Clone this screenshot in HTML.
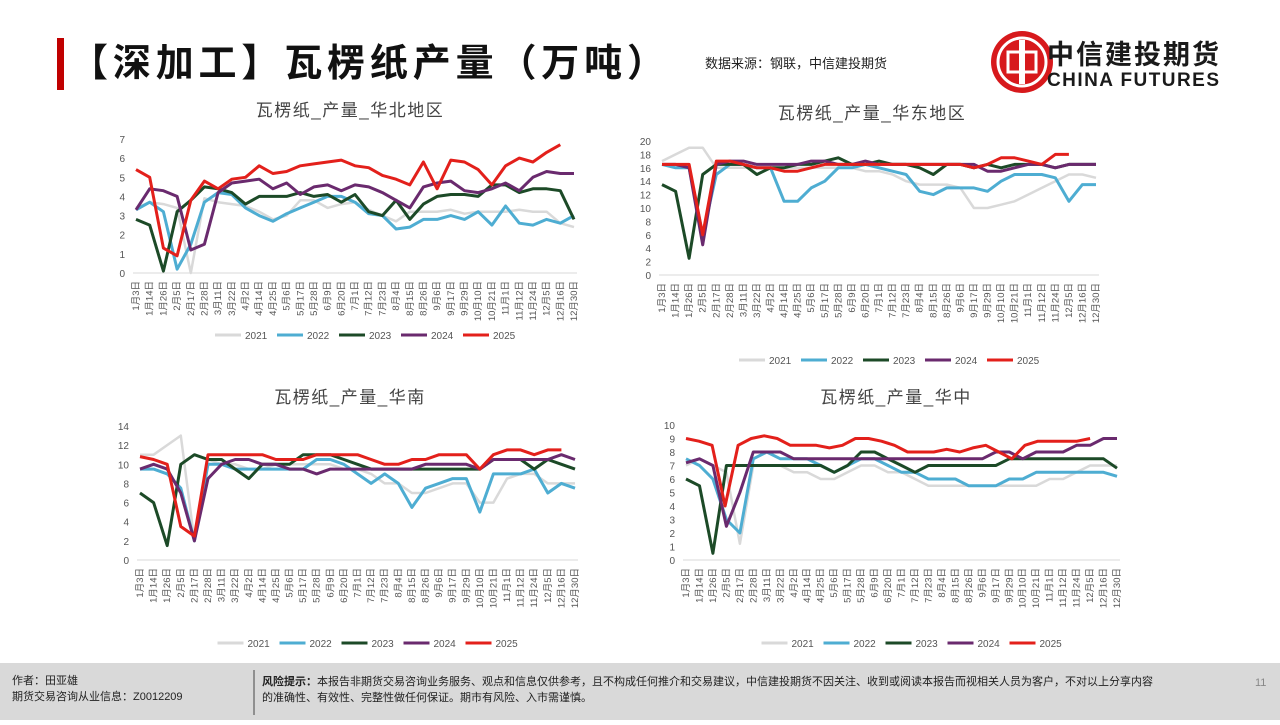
<!DOCTYPE html>
<html><head><meta charset="utf-8"><style>
body{margin:0;width:1280px;height:720px;overflow:hidden;background:#fff;font-family:"Liberation Sans","Noto Sans CJK SC",sans-serif}
</style></head><body>
<svg id="s" width="1280" height="720" xmlns="http://www.w3.org/2000/svg" font-family="Liberation Sans, Noto Sans CJK SC, sans-serif">
<rect x="57" y="38" width="7" height="52" fill="#c00000"/>
<text x="70" y="76" font-size="38" font-weight="bold" fill="#111" textLength="595" lengthAdjust="spacing">【深加工】瓦楞纸产量（万吨）</text>
<text x="705" y="68" font-size="13" fill="#222">数据来源：钢联，中信建投期货</text>
<circle cx="1022" cy="62" r="31" fill="#d7191c"/>
<circle cx="1022" cy="62" r="24" fill="none" stroke="#fff" stroke-width="3"/>
<rect x="1019" y="40" width="6" height="44" fill="#fff"/>
<rect x="1008" y="52" width="28" height="20" fill="none" stroke="#fff" stroke-width="3"/>
<text x="1047" y="64" font-size="27" font-weight="bold" fill="#1a1a1a" textLength="172" lengthAdjust="spacing">中信建投期货</text>
<text x="1047" y="86" font-size="19" font-weight="bold" fill="#1a1a1a" textLength="172" lengthAdjust="spacing">CHINA FUTURES</text>
<rect x="0" y="663" width="1280" height="57" fill="#d9d9d9"/>
<line x1="254" y1="670" x2="254" y2="715" stroke="#777" stroke-width="1.5"/>
<text x="12" y="684" font-size="11" fill="#222">作者：田亚雄</text>
<text x="12" y="700" font-size="11" fill="#222">期货交易咨询从业信息：Z0012209</text>
<text x="262" y="685" font-size="11" fill="#222"><tspan font-weight="bold">风险提示：</tspan>本报告非期货交易咨询业务服务、观点和信息仅供参考，且不构成任何推介和交易建议，中信建投期货不因关注、收到或阅读本报告而视相关人员为客户，不对以上分享内容</text>
<text x="262" y="701" font-size="11" fill="#222">的准确性、有效性、完整性做任何保证。期市有风险、入市需谨慎。</text>
<text x="1255" y="686" font-size="11" fill="#888">11</text>
</svg>
<script>
const S=document.getElementById('s');const NS='http://www.w3.org/2000/svg';
function el(t,a,txt){const e=document.createElementNS(NS,t);for(const k in a)e.setAttribute(k,a[k]);if(txt!=null)e.textContent=txt;S.appendChild(e);return e;}
const labels=["1月3日","1月14日","1月26日","2月5日","2月17日","2月28日","3月11日","3月22日","4月2日","4月14日","4月25日","5月6日","5月17日","5月28日","6月9日","6月20日","7月1日","7月12日","7月23日","8月4日","8月15日","8月26日","9月6日","9月17日","9月29日","10月10日","10月21日","11月1日","11月12日","11月24日","12月5日","12月16日","12月30日"];
const cols=["#d9d9d9","#4eadd2","#1c4a27","#6a2a6e","#e3201b"];
function chart(c){
 const {x0,x1,y0,y1,max,step,title,tx,ty,ly,series}=c;
 el('text',{x:tx,y:ty,'font-size':17,'letter-spacing':1.5,fill:'#444','text-anchor':'middle'},title);
 for(let v=0;v<=max;v+=step){const y=y0-(y0-y1)*v/max;el('text',{x:x0-8,y:y+4,'font-size':10,fill:'#555','text-anchor':'end'},v);}
 el('line',{x1:x0,y1:y0,x2:x1,y2:y0,stroke:'#d9d9d9'});
 const dx=(x1-x0-6)/32;
 labels.forEach((l,i)=>{const x=x0+3+i*dx;el('text',{transform:`translate(${x+3},${y0+8}) rotate(-90)`,'font-size':9.5,fill:'#555','text-anchor':'end'},l);});
 series.forEach((d,si)=>{
  const p=d.map((v,i)=>{const x=x0+3+i*((x1-x0-6)*(d.f||1))/(d.length-1);return x.toFixed(1)+','+(y0-(y0-y1)*v/max).toFixed(1);});
  el('polyline',{points:p.join(' '),fill:'none',stroke:cols[si],'stroke-width':si==0?2.5:3,'stroke-linejoin':'round'});});
 const lx=(x0+x1)/2-140;
 ["2021","2022","2023","2024","2025"].forEach((n,i)=>{const x=lx+i*62;el('line',{x1:x,y1:ly,x2:x+26,y2:ly,stroke:cols[i],'stroke-width':3});el('text',{x:x+30,y:ly+4,'font-size':10,fill:'#555'},n);});
}
function f(a,fr){a.f=fr;return a;}
chart({x0:133,x1:577,y0:273,y1:139,max:7,step:1,title:"瓦楞纸_产量_华北地区",tx:350,ty:116,ly:335,series:[
 [3.4,3.7,3.6,3.4,0,3.9,3.7,3.6,3.5,3.2,2.8,3.0,3.8,3.8,3.4,3.6,3.7,3.3,3.0,2.7,3.2,3.2,3.2,3.3,3.1,3.2,3.2,3.2,3.3,3.2,3.2,2.6,2.4],
 [3.3,3.7,3.2,0.2,1.5,3.7,4.2,4.1,3.4,3.0,2.7,3.1,3.4,3.7,4.0,4.0,3.7,3.1,3.0,2.3,2.4,2.8,2.8,3.0,2.8,3.2,2.5,3.5,2.6,2.5,2.8,2.6,3.0],
 [2.8,2.5,0.1,3.2,3.8,4.5,4.4,4.2,3.6,4.0,4.0,4.0,4.2,4.0,4.1,3.7,4.1,3.2,3.0,3.8,2.8,3.6,4.0,4.1,4.1,4.0,4.6,4.6,4.2,4.4,4.4,4.3,2.8],
 [3.3,4.4,4.3,4.0,1.2,1.5,4.2,4.7,4.8,4.9,4.4,4.7,4.1,4.5,4.6,4.3,4.6,4.5,4.2,3.8,3.4,4.5,4.7,4.8,4.3,4.2,4.4,4.7,4.3,5.0,5.3,5.2,5.2],
 f([5.4,5.0,1.3,0.9,3.8,4.8,4.4,4.9,5.0,5.6,5.2,5.3,5.6,5.7,5.8,5.9,5.6,5.5,5.1,4.9,4.6,5.8,4.4,5.9,5.8,5.4,4.6,5.6,6.0,5.8,6.3,6.7],31/32)]});
chart({x0:659,x1:1099,y0:275,y1:141,max:20,step:2,title:"瓦楞纸_产量_华东地区",tx:872,ty:119,ly:360,series:[
 [17,18,19,19,16,16,16,16,16,16,16,16,16,16,16,15.5,15.5,15,14,13.5,13.5,13.5,13,10,10,10.5,11,12,13,14,15,15,14.5],
 [16.5,16,16,6,15,16.5,16.5,16,16,11,11,13,14,16,16,16.5,16,15.5,15,12.5,12,13,13,13,12.5,14,15,15,15,14.5,11,13.5,13.5],
 [13.5,12.5,2.5,15,16.5,16.5,16.5,15,16,16,16.5,16.5,17,17.5,16.5,16.5,17,16.5,16.5,16,15,16.5,16.5,16,16.5,16,16.5,16.5,16.5,16,16.5,16.5,16.5],
 [16.5,16.5,16,4.5,16.5,17,17,16.5,16.5,16.5,16.5,17,17,16.5,16.5,17,16.5,16.5,16.5,16.5,16.5,16.5,16.5,16.5,15.5,15.5,16,16.5,16.5,16,16.5,16.5,16.5],
 f([16.5,16.5,16.5,6,17,17,16.5,16,16,15.5,15.5,16,16.5,16.5,16.5,16.5,16.5,16.5,16.5,16.5,16.5,16.5,16.5,16,16.5,17.5,17.5,17,16.5,18,18],30/32)]});
chart({x0:137,x1:578,y0:560,y1:426,max:14,step:2,title:"瓦楞纸_产量_华南",tx:350,ty:403,ly:643,series:[
 [11,11,12,13,2,10.5,10,10,9.5,9.5,10,10,10,10,10,9.5,9.5,9,8,8,7,7,7.5,8,8,6,6,8.5,9,9,8,8,8],
 [9.5,9.5,9,7.5,2,10,10,9.5,9.5,9.5,9.5,9.5,9.5,10.5,10.5,10,9,8,9,8,5.5,7.5,8,8.5,8.5,5,9,9,9,9.5,7,8,7.5],
 [7,6,1.5,10,11,10.5,10.5,9.5,8.5,10,10,10,11,11,11,10.5,10,9.5,9.5,9.5,9.5,9.5,9.5,9.5,9.5,9.5,10.5,10.5,10.5,9.5,10.5,10,9.5],
 [9.5,10,9.5,7,2,8.5,10,10.5,10.5,10,10,9.5,9.5,9,9.5,9.5,9.5,9.5,9.5,9.5,9.5,10,10,10,10,9.5,10.5,10.5,10.5,10.5,10.5,11,10.5],
 f([10.8,10.5,10,3.5,2.5,11,11,11,11,11,10.5,10.5,10.5,11,11,11,11,10.5,10,10,10.5,10.5,11,11,11,9.5,11,11.5,11.5,11,11.5,11.5],31/32)]});
chart({x0:683,x1:1120,y0:560,y1:425,max:10,step:1,title:"瓦楞纸_产量_华中",tx:896,ty:403,ly:643,series:[
 [7,7.5,7,6.5,1.2,7,7,7,6.5,6.5,6,6,6.5,7,7,6.5,6.5,6,5.5,5.5,5.5,5.5,5.5,5.5,5.5,5.5,5.5,6,6,6.5,7,7,7],
 [7.5,7,6,3,2,7.5,8,7.5,7.5,7.5,7,6.5,7,7.5,7.5,7,6.5,6.5,6,6,6,5.5,5.5,5.5,6,6,6.5,6.5,6.5,6.5,6.5,6.5,6.2],
 [6,5.5,0.5,7,7,7,7,7,7,7,7,6.5,7,8,8,7.5,7,6.5,7,7,7,7,7,7,7.5,7.5,7.5,7.5,7.5,7.5,7.5,7.5,6.8],
 [7.2,7.5,7,2.5,5,8,8,8,7.5,7.5,7.5,7.5,7.5,7.5,7.5,7.5,7.5,7.5,7.5,7.5,7.5,7.5,7.5,8,8,7.5,8,8,8,8.5,8.5,9,9],
 f([9,8.8,8.5,4,8.5,9,9.2,9,8.5,8.5,8.5,8.3,8.5,9,9,8.8,8.5,8,8,8,8.2,8,8.3,8.5,8,7.5,8.5,8.8,8.8,8.8,8.8,9],30/32)]});
</script>
</body></html>
